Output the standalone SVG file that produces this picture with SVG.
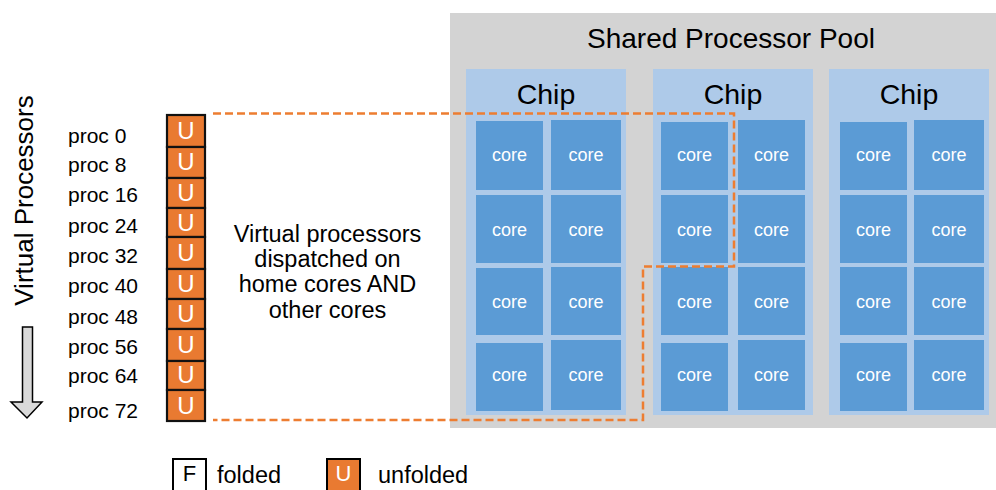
<svg xmlns="http://www.w3.org/2000/svg" width="996" height="490" viewBox="0 0 996 490">
  <style>
    text { font-family: "Liberation Sans", Arial, sans-serif; fill: #000; }
    .pool { fill: #d3d3d3; }
    .chip { fill: #aecae9; }
    .core { fill: #5b9bd5; }
    .coretxt { fill: #ffffff; font-size: 18px; text-anchor: middle; }
    .chiptxt { font-size: 28.5px; text-anchor: middle; }
    .proc { font-size: 21px; }
    .cell { fill: #e97a31; stroke: #111; stroke-width: 2.2; }
    .utxt { fill: #ffffff; font-size: 24px; text-anchor: middle; }
    .dash { fill: none; stroke: #ed7d31; stroke-width: 2.5; stroke-dasharray: 8 4; }
    .mid { font-size: 23.5px; text-anchor: middle; }
    .legend { font-size: 23.5px; }
  </style>

  <!-- Shared processor pool background -->
  <g id="pool">
    <rect class="pool" x="450" y="13" width="546" height="415"/>
    <text x="731" y="48" font-size="28" text-anchor="middle">Shared Processor Pool</text>
  </g>

  <!-- Chip 1 -->
  <g id="chip1">
    <rect class="chip" x="466" y="69" width="160" height="346"/>
    <text class="chiptxt" x="546" y="104">Chip</text>
    <rect class="core" x="476" y="121" width="67" height="69"/>
    <rect class="core" x="551" y="120" width="70" height="70"/>
    <rect class="core" x="476" y="195" width="67" height="68"/>
    <rect class="core" x="551" y="195" width="70" height="68"/>
    <rect class="core" x="476" y="268" width="67" height="67"/>
    <rect class="core" x="551" y="267" width="70" height="68"/>
    <rect class="core" x="476" y="343" width="67" height="68"/>
    <rect class="core" x="551" y="340" width="70" height="70"/>
    <text class="coretxt" x="509.5" y="161">core</text>
    <text class="coretxt" x="586" y="161">core</text>
    <text class="coretxt" x="509.5" y="236">core</text>
    <text class="coretxt" x="586" y="236">core</text>
    <text class="coretxt" x="509.5" y="308">core</text>
    <text class="coretxt" x="586" y="308">core</text>
    <text class="coretxt" x="509.5" y="381">core</text>
    <text class="coretxt" x="586" y="381">core</text>
  </g>

  <!-- Chip 2 -->
  <g id="chip2">
    <rect class="chip" x="653" y="69" width="160" height="346"/>
    <text class="chiptxt" x="733" y="104">Chip</text>
    <rect class="core" x="661" y="122" width="67" height="68"/>
    <rect class="core" x="738" y="120" width="67" height="70"/>
    <rect class="core" x="661" y="195" width="67" height="68"/>
    <rect class="core" x="738" y="195" width="67" height="68"/>
    <rect class="core" x="661" y="267" width="67" height="68"/>
    <rect class="core" x="738" y="267" width="67" height="68"/>
    <rect class="core" x="661" y="343" width="67" height="68"/>
    <rect class="core" x="738" y="340" width="67" height="70"/>
    <text class="coretxt" x="694.5" y="161">core</text>
    <text class="coretxt" x="771.5" y="161">core</text>
    <text class="coretxt" x="694.5" y="236">core</text>
    <text class="coretxt" x="771.5" y="236">core</text>
    <text class="coretxt" x="694.5" y="308">core</text>
    <text class="coretxt" x="771.5" y="308">core</text>
    <text class="coretxt" x="694.5" y="381">core</text>
    <text class="coretxt" x="771.5" y="381">core</text>
  </g>

  <!-- Chip 3 -->
  <g id="chip3">
    <rect class="chip" x="829" y="69" width="160" height="346"/>
    <text class="chiptxt" x="909" y="104">Chip</text>
    <rect class="core" x="840" y="122" width="67" height="68"/>
    <rect class="core" x="914" y="120" width="70" height="70"/>
    <rect class="core" x="840" y="195" width="67" height="68"/>
    <rect class="core" x="914" y="195" width="70" height="68"/>
    <rect class="core" x="840" y="267" width="67" height="68"/>
    <rect class="core" x="914" y="267" width="70" height="68"/>
    <rect class="core" x="840" y="343" width="67" height="68"/>
    <rect class="core" x="914" y="340" width="70" height="70"/>
    <text class="coretxt" x="873.5" y="161">core</text>
    <text class="coretxt" x="949" y="161">core</text>
    <text class="coretxt" x="873.5" y="236">core</text>
    <text class="coretxt" x="949" y="236">core</text>
    <text class="coretxt" x="873.5" y="308">core</text>
    <text class="coretxt" x="949" y="308">core</text>
    <text class="coretxt" x="873.5" y="381">core</text>
    <text class="coretxt" x="949" y="381">core</text>
  </g>

  <!-- Virtual processors axis label and arrow -->
  <g id="axis">
    <text x="33" y="200.5" font-size="26" text-anchor="middle" transform="rotate(-90 33 200.5)">Virtual Processors</text>
    <polygon points="22.5,327 32.5,327 32.5,402 42,402 27,418 11,402 22.5,402" fill="#d9d9d9" stroke="#000" stroke-width="1.5" stroke-linejoin="miter"/>
  </g>

  <!-- Processor labels -->
  <g id="labels">
    <text class="proc" x="68" y="143">proc 0</text>
    <text class="proc" x="68" y="172">proc 8</text>
    <text class="proc" x="68" y="202">proc 16</text>
    <text class="proc" x="68" y="233">proc 24</text>
    <text class="proc" x="68" y="263">proc 32</text>
    <text class="proc" x="68" y="293">proc 40</text>
    <text class="proc" x="68" y="324">proc 48</text>
    <text class="proc" x="68" y="354">proc 56</text>
    <text class="proc" x="68" y="383">proc 64</text>
    <text class="proc" x="68" y="418">proc 72</text>
  </g>

  <!-- Virtual processor cells, all unfolded -->
  <g id="cells">
    <rect class="cell" x="167" y="115" width="38" height="32"/>
    <rect class="cell" x="167" y="147" width="38" height="31"/>
    <rect class="cell" x="167" y="178" width="38" height="30"/>
    <rect class="cell" x="167" y="208" width="38" height="29"/>
    <rect class="cell" x="167" y="237" width="38" height="32"/>
    <rect class="cell" x="167" y="269" width="38" height="30"/>
    <rect class="cell" x="167" y="299" width="38" height="30"/>
    <rect class="cell" x="167" y="329" width="38" height="32"/>
    <rect class="cell" x="167" y="361" width="38" height="29"/>
    <rect class="cell" x="167" y="390" width="38" height="31"/>
    <text class="utxt" x="186" y="139">U</text>
    <text class="utxt" x="186" y="170">U</text>
    <text class="utxt" x="186" y="201">U</text>
    <text class="utxt" x="186" y="231">U</text>
    <text class="utxt" x="186" y="261">U</text>
    <text class="utxt" x="186" y="292">U</text>
    <text class="utxt" x="186" y="322">U</text>
    <text class="utxt" x="186" y="353">U</text>
    <text class="utxt" x="186" y="383">U</text>
    <text class="utxt" x="186" y="414">U</text>
  </g>

  <!-- Dispatch boundary connector -->
  <g id="connectors">
    <path class="dash" d="M213,113.5 H734 V266.5 H643 V420 H213"/>
  </g>

  <!-- Explanation -->
  <g id="note">
    <text class="mid" x="327.5" y="242">Virtual processors</text>
    <text class="mid" x="327.5" y="267">dispatched on</text>
    <text class="mid" x="327.5" y="292">home cores AND</text>
    <text class="mid" x="327.5" y="318">other cores</text>
  </g>

  <!-- Legend -->
  <g id="legend">
    <rect x="173" y="459" width="33" height="33" fill="#fff" stroke="#000" stroke-width="2"/>
    <text x="189.5" y="481" font-size="22" text-anchor="middle">F</text>
    <text class="legend" x="217" y="483">folded</text>
    <rect x="327" y="459" width="33" height="33" fill="#e97a31" stroke="#000" stroke-width="2"/>
    <text x="343.5" y="481" font-size="22" text-anchor="middle" style="fill:#fff">U</text>
    <text class="legend" x="378" y="483">unfolded</text>
  </g>
</svg>
